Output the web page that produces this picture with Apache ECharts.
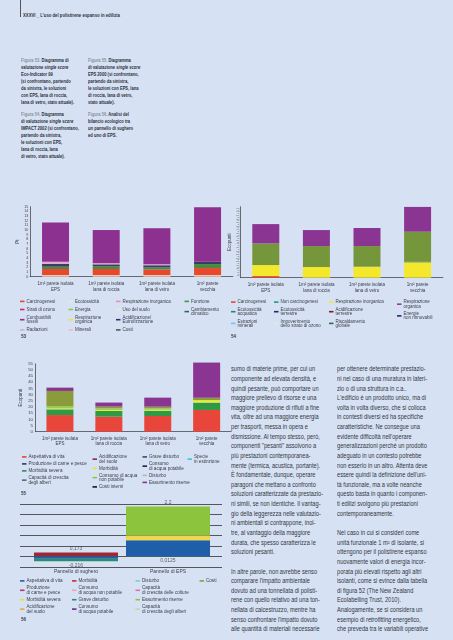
<!DOCTYPE html>
<html><head><meta charset="utf-8">
<script src="https://cdn.jsdelivr.net/npm/echarts@6/dist/echarts.min.js"></script>
<style>
body{margin:0;background:#d6e2f3;width:453px;height:640px;overflow:hidden;position:relative;font-family:'Liberation Sans',Arial,sans-serif;}
.c{position:absolute;left:0;top:0;width:453px;height:640px;}
.t{position:absolute;transform-origin:0 0;white-space:pre;color:#2c2f3a;}
.cap{font-size:10px;line-height:14.6px;font-weight:bold;transform:scale(0.41,0.48);}
.cap .g{color:#8a909c;}
.body{font-size:13.2px;line-height:19.26px;transform:scale(0.43,0.5);color:#33363f;}
.num{font-size:10px;font-weight:bold;transform:scale(0.45,0.5);color:#3a3d48;}
.vl{position:absolute;left:20px;top:0;width:0.7px;height:17px;background:#555;}
</style></head>
<body>
<div class="vl"></div>
<div class="t" style="left:22.5px;top:12.3px;font-size:10.6px;font-weight:bold;transform:scale(0.4,0.5);">XXXVI _ L'uso del polistirene espanso in edilizia</div>
<div class="t cap" style="left:20.7px;top:56.5px;"><span class="g">Figura 53.</span> Diagramma di
valutazione <i>single score</i>
Eco-Indicator 99
(si confrontano, partendo
da sinistra, le soluzioni
con EPS, lana di roccia,
lana di vetro, stato attuale).</div>
<div class="t cap" style="left:88.3px;top:56.5px;"><span class="g">Figura 55.</span> Diagramma
di valutazione <i>single score</i>
EPS 2000 (si confrontano,
partendo da sinistra,
le soluzioni con EPS, lana
di roccia, lana di vetro,
stato attuale).</div>
<div class="t cap" style="left:20.7px;top:110.8px;"><span class="g">Figura 54.</span> Diagramma
di valutazione <i>single score</i>
IMPACT 2002 (si confrontano,
partendo da sinistra,
le soluzioni con EPS,
lana di roccia, lana
di vetro, stato attuale).</div>
<div class="t cap" style="left:88.3px;top:110.8px;"><span class="g">Figura 56.</span> Analisi del
bilancio ecologico tra
un pannello di sughero
ed uno di EPS.</div>

<div class="t num" style="left:20.7px;top:332.5px;">53</div>
<div class="t num" style="left:231px;top:332.5px;">54</div>
<div class="t num" style="left:20.7px;top:489.5px;">55</div>
<div class="t num" style="left:20.7px;top:615.5px;">56</div>

<div class="t body" style="left:231px;top:364.2px;">sumo di materie prime, per cui un
componente ad elevata densità, e
quindi pesante, può comportare un
maggiore prelievo di risorse e una
maggiore produzione di rifiuti a fine
vita, oltre ad una maggiore energia
per trasporti, messa in opera e
dismissione. Al tempo stesso, però,
componenti "pesanti" assolvono a
più prestazioni contemporanea-
mente (termica, acustica, portante).
È fondamentale, dunque, operare
paragoni che mettano a confronto
soluzioni caratterizzate da prestazio-
ni simili, se non identiche. Il vantag-
gio della leggerezza nelle valutazio-
ni ambientali si contrappone, inol-
tre, al vantaggio della maggiore
durata, che spesso caratterizza le
soluzioni pesanti.

In altre parole, non avrebbe senso
comparare l'impatto ambientale
dovuto ad una tonnellata di polisti-
rene con quello relativo ad una ton-
nellata di calcestruzzo, mentre ha
senso confrontare l'impatto dovuto
alle quantità di materiali necessarie</div>
<div class="t body" style="left:337px;top:364.2px;">per ottenere determinate prestazio-
ni nel caso di una muratura in lateri-
zio o di una struttura in c.a..
L'edificio è un prodotto unico, ma di
volta in volta diverso, che si colloca
in contesti diversi ed ha specifiche
caratteristiche. Ne consegue una
evidente difficoltà nell'operare
generalizzazioni perché un prodotto
adeguato in un contesto potrebbe
non esserlo in un altro. Attenta deve
essere quindi la definizione dell'uni-
tà funzionale, ma a volte neanche
questo basta in quanto i componen-
ti edilizi svolgono più prestazioni
contemporaneamente.

Nel caso in cui si consideri come
unità funzionale 1 m² di isolante, si
ottengono per il polistirene espanso
nuovamente valori di energia incor-
porata più elevati rispetto agli altri
isolanti, come si evince dalla tabella
di figura 52 (The New Zealand
Ecolabelling Trust, 2010).
Analogamente, se si considera un
esempio di <i>retrofitting</i> energetico,
che preveda tra le variabili operative</div>

<div id="c53" class="c"></div>
<div id="c54" class="c"></div>
<div id="c55" class="c"></div>
<div id="c56" class="c"></div>

<script>
// ---------- DATA ----------
const cats4 = ['1m² parete isolata\nEPS', '1m² parete isolata\nlana di roccia', '1m² parete isolata\nlana di vetro', '1m² parete\nvecchia'];

// Fig 53 (Eco-Indicator 99, Pt)
const uso53 = [0.35, 0.35, 0.35, 0.35];
const carc53 = [1.3, 1.3, 1.2, 1.5];
const clima53 = [0.5, 0.6, 0.45, 0.85];
const acid53 = [0.6, 0.4, 0.45, 0.5];
const respInorg53 = [0.45, 0.25, 0.2, 0];
const fossili53 = [8.4, 7.1, 7.75, 11.7];
const yTicks53 = {min: 0, max: 15, interval: 1};

// Fig 54 (IMPACT 2002, relative units)
const carc54 = [2.3, 0, 0, 0];
const respInorg54 = [15.5, 15, 15.5, 21.7];
const nonCarc54 = [0, 0, 0, 0.7];
const riscald54 = [30.5, 29.6, 29.1, 42.4];
const respOrg54 = [27.2, 22.5, 25.4, 34.9];

// Fig 55 (EPS 2000, Ecopunti)
const aspett55 = [13.5, 12.2, 12.7, 17.6];
const morbSev55 = [4.6, 4.6, 4.3, 6.0];
const morb55 = [0.8, 0.8, 0.8, 2.0];
const acquaNP55 = [1.9, 1.4, 1.4, 0];
const alberi55 = [12.2, 1.4, 1.1, 1.9];
const esaur55 = [2.7, 3.2, 7.3, 28.5];
const yTicks55 = {min: 0, max: 55, interval: 5};

// Fig 56 (cork vs EPS panel)
const cats56 = ['Pannello di sughero', 'Pannello di EPS'];
const aspett56 = [-0.108, 0.71];
const morb56 = [0.173, 0];
const grave56 = [-0.108, -0.0125];
const morbSev56 = [0, 0.18];
const acid56 = [0, 0.03];
const esaur56 = [0, 1.28];
const labelsPos56 = ['0,173', '2,2'];
const labelsNeg56 = ['-0,216', '0,0125'];

// ---------- HELPERS ----------
const FF = "'Liberation Sans', Arial, sans-serif";
const TXT = '#3a3d48';
function legendCol(left, top, items, gap, fs, lh) {
  return {orient: 'vertical', left: left, top: top, padding: 0, itemWidth: 4.5, itemHeight: 1.6,
    itemGap: gap, icon: 'rect', selectedMode: false,
    data: items.map(function (it) { return {name: it[0], itemStyle: {color: it[1]}}; }),
    textStyle: {fontSize: fs, lineHeight: lh, color: TXT, fontFamily: FF, padding: [0, 0, 0, -3]}};
}
function buildSeries(stack, legends, barWidth, extra) {
  const used = {};
  const out = stack.map(function (s) {
    used[s.name] = 1;
    return Object.assign({type: 'bar', name: s.name, stack: 'a', barWidth: barWidth,
      itemStyle: {color: s.color}, data: s.data.slice()}, extra || {});
  });
  legends.forEach(function (col) { col.forEach(function (it) {
    if (!used[it[0]]) { used[it[0]] = 1; out.push({type: 'bar', name: it[0], stack: 'a', barWidth: barWidth, itemStyle: {color: it[1]}, data: []}); }
  }); });
  return out;
}
function xCat(cats, fs, lh, margin, showLine) {
  return {type: 'category', data: cats, boundaryGap: true, splitLine: {show: false}, axisTick: {show: false},
    axisLine: {show: showLine, onZero: false, lineStyle: {color: '#4a4a50', width: 0.8}},
    axisLabel: {interval: 0, fontSize: fs, lineHeight: lh, margin: margin, color: TXT, fontFamily: FF}};
}

// ---------- FIG 53 ----------
(function () {
  const leg = [
    [['Carcinogenesi', '#e8482d'], ['Strati di ozono', '#d4256f'], ['Combustibili\nfossili', '#8d3191'], ['Radiazioni', '#b7c0c8']],
    [['Ecotossicità', '#e6e8d6'], ['Energia', '#8cc84b'], ['Respirazione\norganica', '#f2e52a'], ['Minerali', '#f2b7c8']],
    [['Respirazione inorganica', '#ee8fa8'], ['Uso del suolo', '#f3e4d2'], ['Acidificazione/\nEutrofizzazione', '#2d3168'], ['Costi', '#4f5a44']],
    [['Funzione', '#3f9b3f'], ['Cambiamento\nclimatico', '#2d6b4c']]
  ];
  const stack = [
    {name: 'Uso del suolo', color: '#f4d3b4', data: uso53},
    {name: 'Carcinogenesi', color: '#e8482d', data: carc53},
    {name: 'Cambiamento\nclimatico', color: '#4b8a3c', data: clima53},
    {name: 'Acidificazione/\nEutrofizzazione', color: '#393d66', data: acid53},
    {name: 'Respirazione inorganica', color: '#e7a7cf', data: respInorg53},
    {name: 'Combustibili\nfossili', color: '#8d3191', data: fossili53}
  ];
  const lefts = [20, 68.5, 116, 184.5];
  echarts.init(document.getElementById('c53')).setOption({
    animation: false,
    grid: {left: 30.2, top: 206.7, width: 202.7, height: 70},
    legend: leg.map(function (c, i) { return legendCol(lefts[i], 298.9, c, 3.1, 4.5, 4.2); }),
    xAxis: xCat(cats4, 4.5, 5.8, 4.5, true),
    yAxis: {type: 'value', min: yTicks53.min, max: yTicks53.max, interval: yTicks53.interval, name: 'Pt', nameLocation: 'middle', nameGap: 9.5,
      nameTextStyle: {fontSize: 4.5, color: TXT, fontFamily: FF},
      axisLine: {show: true, lineStyle: {color: '#4a4a50', width: 0.8}}, axisTick: {show: false}, splitLine: {show: false},
      axisLabel: {fontSize: 3.6, margin: 2, color: TXT, fontFamily: FF}},
    series: buildSeries(stack, leg, 27)
  });
})();

// ---------- FIG 54 ----------
(function () {
  const leg = [
    [['Carcinogenesi', '#e8482d'], ['Ecotossicità\nacquatica', '#1f8a6a'], ['Estrazioni\nminerali', '#6ec6e6']],
    [['Non carcinogenesi', '#1e9a86'], ['Ecotossicità\nterrestre', '#1d2a5a'], ['Impoverimento\ndello strato di ozono', '#dfe7f3']],
    [['Respirazione inorganica', '#f2e62c'], ['Acidificazione\nterrestre', '#7a1f2a'], ['Riscaldamento\nglobale', '#2e6a4a']],
    [['Respirazione\norganica', '#9a3a9a'], ['Energie\nnon rinnovabili', '#2a2a6a']]
  ];
  const stack = [
    {name: 'Carcinogenesi', color: '#dd4a26', data: carc54},
    {name: 'Respirazione inorganica', color: '#f4e82c', data: respInorg54},
    {name: 'Non carcinogenesi', color: '#2f6e46', data: nonCarc54},
    {name: 'Riscaldamento\nglobale', color: '#76963c', data: riscald54},
    {name: 'Respirazione\norganica', color: '#8b3592', data: respOrg54}
  ];
  const lefts = [231, 274, 329, 397];
  echarts.init(document.getElementById('c54')).setOption({
    animation: false,
    grid: {left: 240.5, top: 206.7, width: 202.4, height: 71},
    legend: leg.map(function (c, i) { return legendCol(lefts[i], 299.6, c, 2.5, 4.5, 4.2); }),
    xAxis: xCat(cats4, 4.5, 5.8, 4.5, true),
    yAxis: {type: 'value', min: 0, max: 100, interval: 2.5, name: 'Ecopunti', nameLocation: 'middle', nameGap: 7.5,
      nameTextStyle: {fontSize: 4.5, color: TXT, fontFamily: FF},
      axisLine: {show: true, lineStyle: {color: '#4a4a50', width: 0.8}}, axisTick: {show: true, length: 1, lineStyle: {color: '#777', width: 0.4}}, splitLine: {show: false},
      axisLabel: {fontSize: 1.7, margin: 1.2, color: '#666', fontFamily: FF}},
    series: buildSeries(stack, leg, 27)
  });
})();

// ---------- FIG 55 ----------
(function () {
  const leg = [
    [['Aspettativa di vita', '#e8463a'], ['Produzione di carne e pesce', '#2a3a6a'], ['Morbidità severa', '#2f8a6e'], ['Capacità di crescita\ndegli alberi', '#4a6a8c']],
    [['Acidificazione\ndel suolo', '#8a2a5c'], ['Morbidità', '#f0e030'], ['Consumo di acqua\nnon potabile', '#8ac84a'], ['Costi interni', '#151515']],
    [['Grave disturbo', '#3a4a7a'], ['Consumo\ndi acqua potabile', '#1a2050'], ['Disturbo', '#b0b8c2'], ['Esaurimento riserve', '#8b3592']],
    [['Specie\nin estinzione', '#3cc6e0']]
  ];
  const stack = [
    {name: 'Aspettativa di vita', color: '#e8463a', data: aspett55},
    {name: 'Morbidità severa', color: '#2f9a46', data: morbSev55},
    {name: 'Morbidità', color: '#e5ee3a', data: morb55},
    {name: 'Consumo di acqua\nnon potabile', color: '#9ccc55', data: acquaNP55},
    {name: 'Capacità di crescita\ndegli alberi', color: '#8a9b3c', data: alberi55},
    {name: 'Esaurimento riserve', color: '#8b3592', data: esaur55}
  ];
  const lefts = [22, 92.5, 142.5, 187.5];
  echarts.init(document.getElementById('c55')).setOption({
    animation: false,
    grid: {left: 35.5, top: 363.8, width: 195.6, height: 67.9},
    legend: leg.map(function (c, i) { return legendCol(lefts[i], 454.4, c, 2, 4.6, 4.5); }),
    xAxis: xCat(cats4, 4.5, 5, 4.5, true),
    yAxis: {type: 'value', min: yTicks55.min, max: yTicks55.max, interval: yTicks55.interval, name: 'Ecopunti', nameLocation: 'middle', nameGap: 12,
      nameTextStyle: {fontSize: 4.5, color: TXT, fontFamily: FF},
      axisLine: {show: true, lineStyle: {color: '#4a4a50', width: 0.8}}, axisTick: {show: false}, splitLine: {show: false},
      axisLabel: {fontSize: 4.3, margin: 2.5, color: TXT, fontFamily: FF}},
    series: buildSeries(stack, leg, 27, {clip: false})
  });
})();

// ---------- FIG 56 ----------
(function () {
  const leg = [
    [['Aspettativa di vita', '#1f5ea8'], ['Produzione\ndi carne e pesce', '#c0307a'], ['Morbidità severa', '#f2d845'], ['Acidificazione\ndel suolo', '#f0a840']],
    [['Morbidità', '#c0303a'], ['Consumo\ndi acqua non potabile', '#f0a0c0'], ['Grave disturbo', '#2b8a72'], ['Consumo\ndi acqua potabile', '#6a2a8a']],
    [['Disturbo', '#7ad0c8'], ['Capacità\ndi crescita delle colture', '#e070a0'], ['Esaurimento riserve', '#8cc43e'], ['Capacità\ndi crescita degli alberi', '#b4e0a4']],
    [['Costi', '#8aa040']]
  ];
  const stack = [
    {name: 'Aspettativa di vita', color: '#1f5ea8', data: aspett56},
    {name: 'Morbidità', color: '#9b2832', data: morb56},
    {name: 'Grave disturbo', color: '#2b8a72', data: grave56},
    {name: 'Morbidità severa', color: '#f2d845', data: morbSev56},
    {name: 'Acidificazione\ndel suolo', color: '#e8b060', data: acid56},
    {name: 'Esaurimento riserve', color: '#8cc43e', data: esaur56}
  ];
  const all = [aspett56, morb56, grave56, morbSev56, acid56, esaur56];
  const pos = cats56.map(function (c, i) { return all.reduce(function (s, a) { return s + Math.max(0, a[i]); }, 0); });
  const neg = cats56.map(function (c, i) { return all.reduce(function (s, a) { return s + Math.min(0, a[i]); }, 0); });
  const series = buildSeries(stack, leg, 84).map(function (s) { s.xAxisIndex = 1; s.yAxisIndex = 1; return s; });
  const lab = {fontSize: 5, color: TXT, fontFamily: FF, distance: 1.5};
  series.push({type: 'scatter', name: 'tot+', xAxisIndex: 1, yAxisIndex: 1, symbolSize: 0, silent: true, z: 5,
    data: pos.map(function (v, i) { return [i, v]; }),
    label: Object.assign({show: true, position: 'top', formatter: function (p) { return labelsPos56[p.dataIndex]; }}, lab)});
  series.push({type: 'scatter', name: 'tot-', xAxisIndex: 1, yAxisIndex: 1, symbolSize: 0, silent: true, z: 5,
    data: neg.map(function (v, i) { return [i, v]; }),
    label: Object.assign({show: true, position: 'bottom', formatter: function (p) { return labelsNeg56[p.dataIndex]; }}, lab)});
  const yScale = {type: 'value', min: -0.4625, max: 2.3125, interval: 0.4625, axisLine: {show: false}, axisTick: {show: false}, axisLabel: {show: false}};
  const lefts = [20, 72, 135.5, 199.5];
  echarts.init(document.getElementById('c56')).setOption({
    animation: false,
    grid: [{left: 20, top: 504, width: 202, height: 62.8}, {left: 30, top: 504, width: 184, height: 62.8}],
    legend: leg.map(function (c, i) { return legendCol(lefts[i], 578.4, c, 2.2, 4.6, 4.4); }),
    xAxis: [
      {type: 'category', gridIndex: 0, data: cats56, show: false},
      Object.assign(xCat(cats56, 5, 5, 2, false), {gridIndex: 1})
    ],
    yAxis: [
      Object.assign({gridIndex: 0, splitLine: {show: true, lineStyle: {color: '#55565c', width: 1}}}, yScale),
      Object.assign({gridIndex: 1, splitLine: {show: false}}, yScale)
    ],
    series: series
  });
})();
</script>
</body></html>
